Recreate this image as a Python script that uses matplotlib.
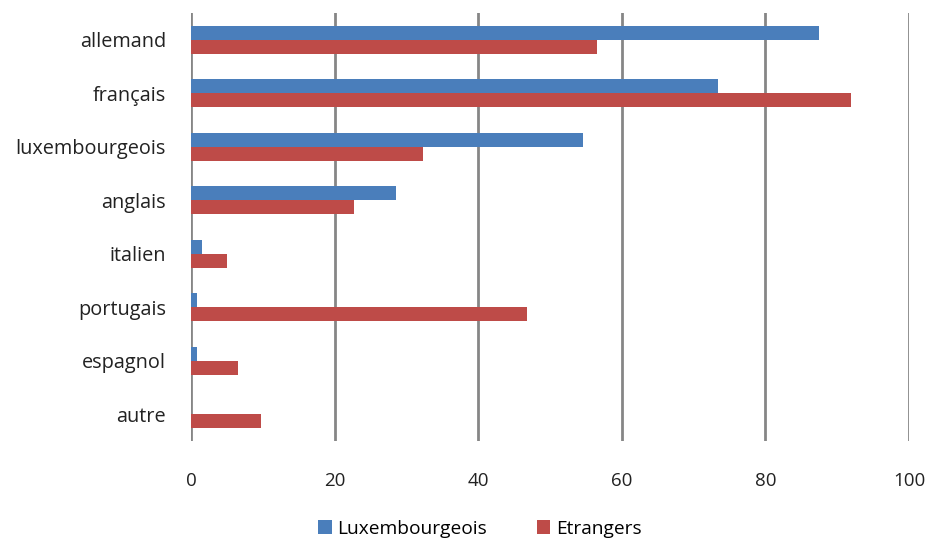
import matplotlib
matplotlib.use("Agg")
import matplotlib.pyplot as plt
import numpy as np

categories = ["allemand", "français", "luxembourgeois", "anglais", "italien", "portugais", "espagnol", "autre"]
luxembourgeois = [87.5, 73.4, 54.6, 28.6, 1.5, 0.8, 0.8, 0.0]
etrangers = [56.5, 91.9, 32.3, 22.7, 5.0, 46.8, 6.5, 9.7]
xticks = [0, 20, 40, 60, 80, 100]

plt.rcParams['font.family'] = ['Open Sans', 'DejaVu Sans']

fig = plt.figure(figsize=(9.25, 5.4), dpi=100)
ax = fig.add_axes([0.2065, 0.1833, 0.7762, 0.7927])

n = len(categories)
y = np.arange(n)
h = 0.26
ax.barh(y - h/2, luxembourgeois, height=h, color="#4A7EBB", label="Luxembourgeois", zorder=3)
ax.barh(y + h/2, etrangers, height=h, color="#BE4B48", label="Etrangers", zorder=3)

ax.set_ylim(n - 0.5, -0.5)
ax.set_xlim(0, 100)
ax.set_xticks(xticks)
ax.set_xticklabels([str(t) for t in xticks], fontsize=13.5, color="#222222")
ax.set_yticks(y)
ax.set_yticklabels(categories, fontsize=14.3, color="#222222")
ax.tick_params(axis='both', length=0)
ax.tick_params(axis='y', pad=18)
ax.tick_params(axis='x', pad=22)
ax.xaxis.grid(True, color="#868686", linewidth=2, zorder=0)
for s in ax.spines.values():
    s.set_visible(False)

fig.legend(loc="lower center", bbox_to_anchor=(0.519, -0.028), ncol=2, frameon=False,
           fontsize=13.8, handlelength=0.7, handleheight=0.7, columnspacing=2.6, handletextpad=0.3)

fig.savefig("out.png", dpi=100)
